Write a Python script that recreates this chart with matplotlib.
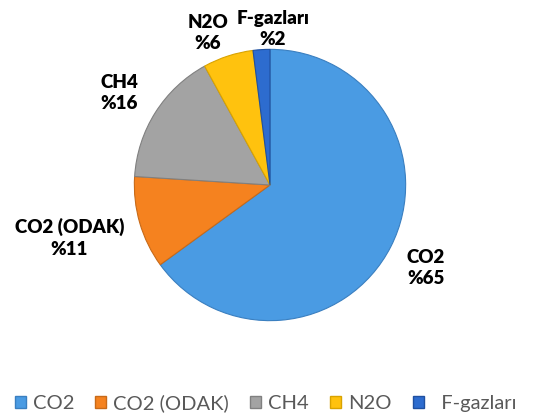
import matplotlib
matplotlib.use('Agg')
import matplotlib.pyplot as plt
from matplotlib.patches import Patch

# Sera gazı payları (%)
gazlar = ['CO2', 'CO2 (ODAK)', 'CH4', 'N2O', 'F-gazları']
paylar = [65, 11, 16, 6, 2]
renkler = ['#4a9be3', '#f5821f', '#a3a3a3', '#ffc20e', '#2d6ccf']
kenar_renkleri = ['#3a7fc0', '#c86a18', '#808080', '#d9a300', '#1f50a0']

# Etiketlerin pasta merkezine göre konumu (yarıçap birimi)
etiket_konum = [(1.15, -0.61), (-1.48, -0.39), (-1.11, 0.68), (-0.46, 1.12), (0.02, 1.15)]

plt.rcParams['font.family'] = ['Lato', 'DejaVu Sans']

fig = plt.figure(figsize=(5.38, 4.17), dpi=100)
ax = fig.add_axes([133 / 538, 95 / 417, 274 / 538, 274 / 417])

wedges, _ = ax.pie(paylar, colors=renkler, startangle=90, counterclock=False,
                   radius=1.0, wedgeprops=dict(linewidth=0.8))
for w, ec in zip(wedges, kenar_renkleri):
    w.set_edgecolor(ec)

for gaz, pay, (x, y) in zip(gazlar, paylar, etiket_konum):
    ax.text(x, y, '{}\n%{}'.format(gaz, pay), ha='center', va='center',
            fontsize=13.5, fontweight='heavy', color='black', linespacing=1.3)

ax.set_xlim(-1.01, 1.01)
ax.set_ylim(-1.01, 1.01)
ax.set_aspect('equal')
ax.axis('off')

handles = [Patch(facecolor=r, edgecolor=e) for r, e in zip(renkler, kenar_renkleri)]
legend_labels = gazlar[:-1] + ['  ' + gazlar[-1]]
fig.legend(handles, legend_labels, loc='center left', bbox_to_anchor=(0.012, 0.034),
           ncol=5, frameon=False, fontsize=14.5, labelcolor='#595959',
           handlelength=0.55, handleheight=0.55, handletextpad=0.35,
           columnspacing=1.05, borderaxespad=0.0)

fig.savefig('out.png', dpi=100)
